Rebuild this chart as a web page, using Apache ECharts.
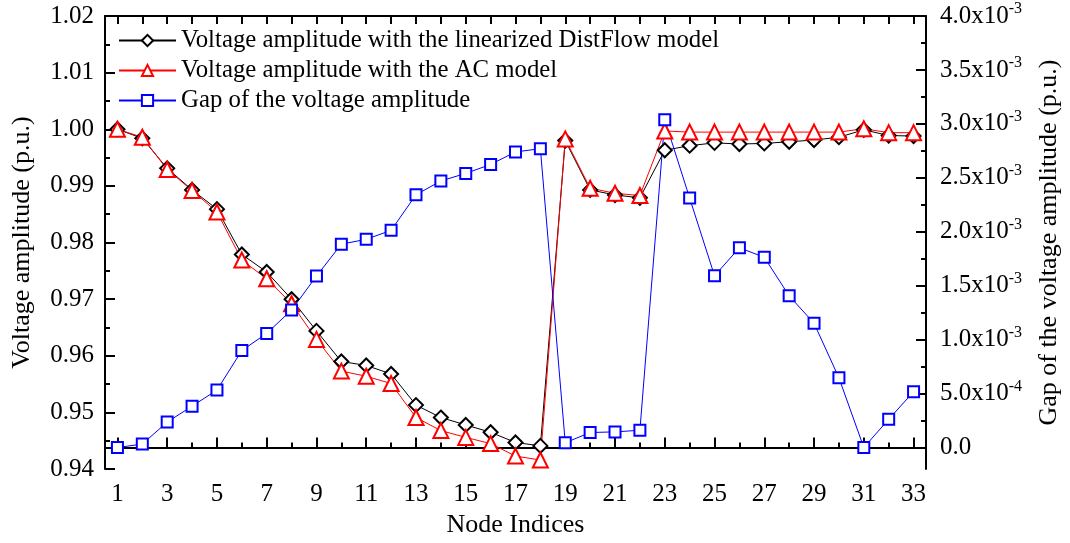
<!DOCTYPE html>
<html>
<head>
<meta charset="utf-8">
<script src="https://cdn.jsdelivr.net/npm/echarts@6/dist/echarts.min.js"></script>
<style>
html,body{margin:0;padding:0;background:#fff;}
#chart{width:1070px;height:543px;}
</style>
</head>
<body>
<div id="chart"></div>
<script>
const nodes = [1,2,3,4,5,6,7,8,9,10,11,12,13,14,15,16,17,18,19,20,21,22,23,24,25,26,27,28,29,30,31,32,33];
const linDistFlow = [1.0000,0.9984,0.9931,0.9893,0.9859,0.9779,0.9748,0.9700,0.9644,0.9590,0.9583,0.9568,0.9513,0.9491,0.9478,0.9465,0.9447,0.9441,0.9980,0.9893,0.9884,0.9879,0.9963,0.9971,0.9976,0.9974,0.9975,0.9978,0.9981,0.9986,0.9999,0.9989,0.9988];
const acModel = [1.0000,0.9986,0.9929,0.9892,0.9854,0.9769,0.9736,0.9692,0.9629,0.9573,0.9564,0.9551,0.9491,0.9468,0.9456,0.9445,0.9423,0.9416,0.9983,0.9896,0.9887,0.9883,0.9997,0.9995,0.9995,0.9995,0.9995,0.9995,0.9995,0.9995,1.0001,0.9994,0.9994];
const gapValues = [0.000000,0.000032,0.000236,0.000383,0.000533,0.000899,0.001058,0.001275,0.001589,0.001885,0.001930,0.002013,0.002343,0.002471,0.002541,0.002624,0.002740,0.002770,0.000044,0.000139,0.000145,0.000160,0.003038,0.002312,0.001592,0.001852,0.001763,0.001406,0.001152,0.000646,0.000000,0.000261,0.000517];
const xLabelTicks = [1,3,5,7,9,11,13,15,17,19,21,23,25,27,29,31,33];
const xMinorTicks = [2,4,6,8,10,12,14,16,18,20,22,24,26,28,30,32];
const rightTicks = [0,0.0005,0.001,0.0015,0.002,0.0025,0.003,0.0035,0.004];
const rightMinorTicks = [0.00025,0.00075,0.00125,0.00175,0.00225,0.00275,0.00325,0.00375];
const rightTickMant = ['0.0','5.0','1.0','1.5','2.0','2.5','3.0','3.5','4.0'];
const rightTickExp = ['','-4','-3','-3','-3','-3','-3','-3','-3'];
const legendNames = ['Voltage amplitude with the linearized DistFlow model','Voltage amplitude with the AC model','Gap of the voltage amplitude'];

const FONT = 'Liberation Serif';
const chart = echarts.init(document.getElementById('chart'));
const pair = (arr) => nodes.map((n, i) => [n, arr[i]]);

const option = {
  backgroundColor: '#fff',
  animation: false,
  textStyle: {fontFamily: FONT, color: '#000'},
  grid: {left: 105, right: 137, top: 16, bottom: 69},
  legend: {
    orient: 'vertical', left: 118, top: 28, padding: 0,
    itemWidth: 57, itemHeight: 14, itemGap: 5,
    textStyle: {fontFamily: FONT, fontSize: 24.8, color: '#000', lineHeight: 25},
    data: legendNames
  },
  xAxis: [
    {
      type: 'value', min: 0.5, max: 33.5, position: 'bottom',
      name: 'Node Indices', nameLocation: 'middle', nameGap: 37,
      nameTextStyle: {fontFamily: FONT, fontSize: 26, color: '#000'},
      axisLine: {show: true, lineStyle: {color: '#000', width: 2}},
      axisTick: {show: true, inside: true, length: 10, lineStyle: {color: '#000', width: 2}, customValues: xLabelTicks},
      axisLabel: {show: true, fontFamily: FONT, fontSize: 25, color: '#000', margin: 13, customValues: xLabelTicks},
      splitLine: {show: false}
    },
    {
      type: 'value', min: 0.5, max: 33.5, position: 'bottom',
      axisLine: {show: false},
      axisTick: {show: true, inside: true, length: 5, lineStyle: {color: '#000', width: 2}, customValues: xMinorTicks},
      axisLabel: {show: false, customValues: xMinorTicks},
      splitLine: {show: false}
    },
    {
      type: 'value', min: 0.5, max: 33.5, position: 'top',
      axisLine: {show: true, lineStyle: {color: '#000', width: 2}},
      axisTick: {show: true, inside: true, length: 8, lineStyle: {color: '#000', width: 2}, customValues: nodes},
      axisLabel: {show: false, customValues: nodes},
      splitLine: {show: false}
    }
  ],
  yAxis: [
    {
      type: 'value', min: 0.94, max: 1.02, interval: 0.01, position: 'left',
      name: 'Voltage amplitude (p.u.)', nameLocation: 'middle', nameGap: 70, nameRotate: 90,
      nameTextStyle: {fontFamily: FONT, fontSize: 26, color: '#000'},
      axisLine: {show: true, lineStyle: {color: '#000', width: 2}},
      axisTick: {show: true, inside: true, length: 10, lineStyle: {color: '#000', width: 2}},
      minorTick: {show: true, splitNumber: 2, length: 5, lineStyle: {color: '#000', width: 2}},
      axisLabel: {fontFamily: FONT, fontSize: 25, color: '#000', margin: 11, formatter: (v) => v.toFixed(2)},
      splitLine: {show: false}, minorSplitLine: {show: false}
    },
    {
      type: 'value', min: -0.0002, max: 0.004, position: 'right',
      name: 'Gap of the voltage amplitude (p.u.)', nameLocation: 'middle', nameGap: 110, nameRotate: 90,
      nameTextStyle: {fontFamily: FONT, fontSize: 26, color: '#000'},
      axisLine: {show: true, lineStyle: {color: '#000', width: 2}},
      axisTick: {show: true, inside: true, length: 10, lineStyle: {color: '#000', width: 2}, customValues: rightTicks},
      axisLabel: {
        fontFamily: FONT, fontSize: 25, color: '#000', margin: 14, customValues: rightTicks,
        formatter: (v) => {
          const i = rightTicks.findIndex(t => Math.abs(t - v) < 1e-9);
          if (i < 0) return '';
          if (!rightTickExp[i]) return '{b|' + rightTickMant[i] + '}';
          return '{b|' + rightTickMant[i] + 'x10}{s|' + rightTickExp[i] + '}';
        },
        rich: {
          b: {fontFamily: FONT, fontSize: 25, color: '#000', lineHeight: 30},
          s: {fontFamily: FONT, fontSize: 16, color: '#000', verticalAlign: 'top', lineHeight: 16}
        }
      },
      splitLine: {show: false}
    },
    {
      type: 'value', min: -0.0002, max: 0.004, position: 'right',
      axisLine: {show: false},
      axisTick: {show: true, inside: true, length: 5, lineStyle: {color: '#000', width: 2}, customValues: rightMinorTicks},
      axisLabel: {show: false, customValues: rightMinorTicks},
      splitLine: {show: false}
    }
  ],
  series: [
    {
      name: legendNames[0], type: 'line', xAxisIndex: 0, yAxisIndex: 0,
      data: pair(linDistFlow),
      symbol: 'emptyDiamond', symbolSize: 14,
      lineStyle: {color: '#000', width: 1},
      itemStyle: {color: '#000', borderColor: '#000', borderWidth: 2}
    },
    {
      name: legendNames[1], type: 'line', xAxisIndex: 0, yAxisIndex: 0,
      data: pair(acModel),
      symbol: 'emptyTriangle', symbolSize: 15,
      lineStyle: {color: '#ff0000', width: 1},
      itemStyle: {color: '#ff0000', borderColor: '#ff0000', borderWidth: 2}
    },
    {
      name: legendNames[2], type: 'line', xAxisIndex: 0, yAxisIndex: 1,
      data: pair(gapValues),
      symbol: 'emptyRect', symbolSize: 11,
      lineStyle: {color: '#0000ff', width: 1},
      itemStyle: {color: '#0000ff', borderColor: '#0000ff', borderWidth: 2}
    }
  ]
};
chart.setOption(option);
</script>
</body>
</html>
